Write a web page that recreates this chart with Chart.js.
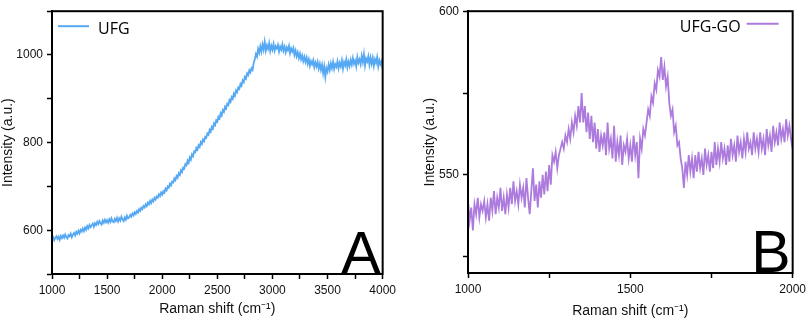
<!DOCTYPE html>
<html lang="en">
<head>
<meta charset="UTF-8">
<title>Raman spectra - UFG and UFG-GO</title>
<script src="https://cdn.jsdelivr.net/npm/chart.js"></script>
<style>
    body {
        margin: 0;
        background: #fff;
    }
    canvas {
        position: absolute;
        top: 0;
    }
    #chartA { left: 0; }
    #chartB { left: 400px; }
</style>
</head>
<body>
<canvas id="chartA" width="400" height="321"></canvas>
<canvas id="chartB" width="410" height="321"></canvas>
<script>
// Panel A: UFG, one reading every 10 cm-1 starting at 1000
const ufgLabel = 'UFG';
const ufgStart = 1000;
const ufgStep = 10;
const ufgIntensity = [
    579, 584, 577, 583, 586, 580, 585, 578, 587, 582,
    588, 583, 590, 584, 581, 589, 586, 592, 584, 590,
    594, 588, 596, 592, 599, 593, 601, 597, 604, 598,
    606, 601, 609, 604, 612, 607, 611, 615, 608, 616,
    612, 619, 614, 621, 616, 613, 622, 617, 624, 618,
    623, 617, 625, 619, 627, 620, 618, 626, 621, 628,
    620, 627, 622, 631, 625, 621, 629, 624, 633, 627,
    629, 635, 631, 638, 634, 641, 637, 644, 640, 648,
    644, 651, 648, 655, 652, 659, 655, 663, 659, 667,
    662, 670, 666, 674, 670, 677, 674, 682, 678, 686,
    681, 689, 686, 695, 691, 700, 697, 706, 702, 711,
    709, 718, 714, 724, 720, 730, 726, 737, 733, 743,
    741, 751, 748, 759, 754, 766, 761, 773, 769, 780,
    778, 788, 784, 794, 790, 801, 797, 807, 803, 813,
    811, 821, 818, 829, 825, 836, 832, 844, 840, 851,
    848, 859, 855, 867, 862, 874, 870, 882, 878, 889,
    886, 897, 893, 904, 900, 912, 907, 919, 915, 926,
    923, 934, 930, 942, 938, 950, 946, 958, 954, 965,
    960, 970, 966, 982, 990, 1002, 996, 1014, 1005, 1020,
    1008, 1024, 1012, 1030, 1010, 1022, 1014, 1027, 1009, 1021,
    1012, 1025, 1010, 1020, 1015, 1023, 1008, 1019, 1012, 1024,
    1010, 1019, 1006, 1017, 1011, 1021, 1004, 1015, 1008, 1016,
    1000, 1010, 997, 1006, 993, 1003, 990, 999, 986, 996,
    984, 994, 980, 990, 975, 986, 979, 988, 972, 983,
    974, 984, 969, 980, 966, 978, 958, 974, 950, 970,
    962, 978, 966, 981, 970, 984, 968, 979, 973, 986,
    970, 982, 974, 988, 969, 984, 976, 990, 972, 985,
    975, 989, 978, 993, 980, 987, 974, 995, 982, 990,
    979, 998, 984, 1002, 976, 992, 985, 997, 978, 994,
    980, 993, 975, 990, 982, 995, 974, 988, 979, 986,
    968
];

// Panel B: UFG-GO, one reading every 5 cm-1 starting at 1000
const goLabel = 'UFG-GO';
const goStart = 1000;
const goStep = 5;
const goIntensity = [
    542, 536, 540, 533, 541, 538, 543, 537, 541, 539,
    542, 537, 541, 536, 543, 539, 545, 538, 543, 540,
    546, 539, 543, 538, 544, 540, 546, 541, 548, 542,
    545, 541, 547, 543, 546, 540, 549, 543, 538, 545,
    552, 542, 547, 540, 548, 543, 550, 544, 551, 545,
    553, 547, 556, 554, 557, 552, 556, 558, 560, 558,
    562, 560, 564, 561, 566, 563, 568, 565, 571, 566,
    575, 566, 571, 563, 569, 561, 568, 560, 566, 558,
    564, 557, 562, 559, 563, 556, 566, 558, 561, 555,
    565, 554, 560, 556, 562, 553, 559, 557, 561, 555,
    559, 554, 562, 556, 560, 549, 561, 558, 564, 562,
    566, 570, 568, 574, 572, 578, 576, 582, 580, 586,
    579, 583, 577, 580, 572, 568, 570, 563, 565, 559,
    560, 555, 552, 546, 554, 550, 556, 551, 555, 549,
    556, 551, 557, 552, 555, 550, 558, 553, 556, 551,
    557, 552, 560, 553, 558, 554, 560, 555, 558, 553,
    559, 554, 561, 556, 559, 554, 562, 557, 560, 555,
    561, 557, 563, 558, 560, 556, 563, 558, 561, 557,
    563, 558, 561, 556, 564, 559, 562, 557, 565, 560,
    563, 559, 566, 561, 564, 560, 567, 562, 565, 561,
    558
];

// tick positions and which of them carry a label
const aXTicks = [1000, 1250, 1500, 1750, 2000, 2250, 2500, 2750, 3000, 3250, 3500, 3750, 4000];
const aXLabels = [1000, 1500, 2000, 2500, 3000, 3500, 4000];
const aYTicks = [500, 600, 700, 800, 900, 1000, 1100];
const aYLabels = [600, 800, 1000];
const bXTicks = [1000, 1250, 1500, 1750, 2000];
const bXLabels = [1000, 1500, 2000];
const bYTicks = [525, 550, 575, 600];
const bYLabels = [550, 600];

const xTitle = 'Raman shift (cm\u207B\u00B9)';
const yTitle = 'Intensity (a.u.)';

const sans = '"Liberation Sans", Arial, sans-serif';

function toPoints(start, step, values) {
    return values.map((v, i) => ({ x: start + i * step, y: v }));
}

function makeScale(o) {
    return {
        type: 'linear',
        position: o.position,
        min: o.min,
        max: o.max,
        afterBuildTicks: s => { s.ticks = o.ticks.map(v => ({ value: v })); },
        afterFit: s => {
            if (o.width) s.width = o.width;
            if (o.height) s.height = o.height;
        },
        ticks: {
            font: { family: sans, size: 12 },
            color: '#111',
            padding: 4,
            maxRotation: 0,
            autoSkip: false,
            callback: v => o.labels.includes(v) ? String(v) : ''
        },
        grid: {
            drawOnChartArea: false,
            drawTicks: true,
            tickLength: 5,
            tickWidth: 1.5,
            tickColor: '#000'
        },
        border: { display: true, color: '#000', width: 2 },
        title: {
            display: true,
            text: o.title,
            font: { family: sans, size: 14 },
            color: '#111',
            padding: o.titlePad
        }
    };
}

// frame, inline legend and the big panel letter
const panelDeco = {
    id: 'panelDeco',
    afterDatasetsDraw(chart, args, o) {
        const { ctx, chartArea: ca } = chart;
        const ds = chart.data.datasets[0];
        ctx.save();
        ctx.strokeStyle = '#000';
        ctx.lineWidth = 2;
        ctx.strokeRect(ca.left, ca.top, ca.right - ca.left, ca.bottom - ca.top);

        ctx.fillStyle = '#000';
        ctx.font = '59px ' + sans;
        ctx.textAlign = 'right';
        ctx.textBaseline = 'alphabetic';
        ctx.fillText(o.letter, ca.right - 2, ca.bottom - 1);

        ctx.font = o.legendSize + 'px "Open Sans", sans-serif';
        ctx.strokeStyle = ds.borderColor;
        ctx.lineWidth = 2;
        ctx.beginPath();
        if (o.legendLeft) {
            ctx.moveTo(ca.left + 6, ca.top + 15);
            ctx.lineTo(ca.left + 37, ca.top + 15);
            ctx.stroke();
            ctx.textAlign = 'left';
            ctx.fillText(ds.label, ca.left + 46, ca.top + 22.5);
        } else {
            ctx.moveTo(ca.right - 46, ca.top + 12.5);
            ctx.lineTo(ca.right - 14, ca.top + 12.5);
            ctx.stroke();
            ctx.textAlign = 'right';
            ctx.fillText(ds.label, ca.right - 52, ca.top + 21);
        }
        ctx.restore();
    }
};

function makeChart(id, cfg) {
    return new Chart(document.getElementById(id), {
        type: 'line',
        data: {
            datasets: [{
                label: cfg.label,
                data: cfg.points,
                borderColor: cfg.color,
                borderWidth: 1.8,
                pointRadius: 0,
                tension: 0,
                fill: false
            }]
        },
        options: {
            responsive: false,
            animation: false,
            layout: { padding: cfg.padding },
            plugins: {
                legend: { display: false },
                tooltip: { enabled: false },
                panelDeco: cfg.deco
            },
            scales: {
                x: makeScale(cfg.x),
                y: makeScale(cfg.y)
            }
        },
        plugins: [panelDeco]
    });
}

makeChart('chartA', {
    label: ufgLabel,
    points: toPoints(ufgStart, ufgStep, ufgIntensity),
    color: '#55A8F2',
    padding: { left: 0, top: 4, right: 13, bottom: 0 },
    deco: { letter: 'A', legendLeft: true, legendSize: 16 },
    x: { position: 'bottom', min: 1000, max: 4000, ticks: aXTicks, labels: aXLabels,
         title: xTitle, height: 47, titlePad: { top: 0, bottom: 3 } },
    y: { position: 'left', min: 500, max: 1100, ticks: aYTicks, labels: aYLabels,
         title: yTitle, width: 52, titlePad: { top: 0, bottom: 0 } }
});

makeChart('chartB', {
    label: goLabel,
    points: toPoints(goStart, goStep, goIntensity),
    color: '#AD7BDE',
    padding: { left: 0, top: 9, right: 14, bottom: 0 },
    deco: { letter: 'B', legendLeft: false, legendSize: 16 },
    x: { position: 'bottom', min: 1000, max: 2000, ticks: bXTicks, labels: bXLabels,
         title: xTitle, height: 48, titlePad: { top: 0, bottom: 1 } },
    y: { position: 'left', min: 520, max: 600, ticks: bYTicks, labels: bYLabels,
         title: yTitle, width: 68, titlePad: { top: 22, bottom: 0 } }
});
</script>
</body>
</html>
